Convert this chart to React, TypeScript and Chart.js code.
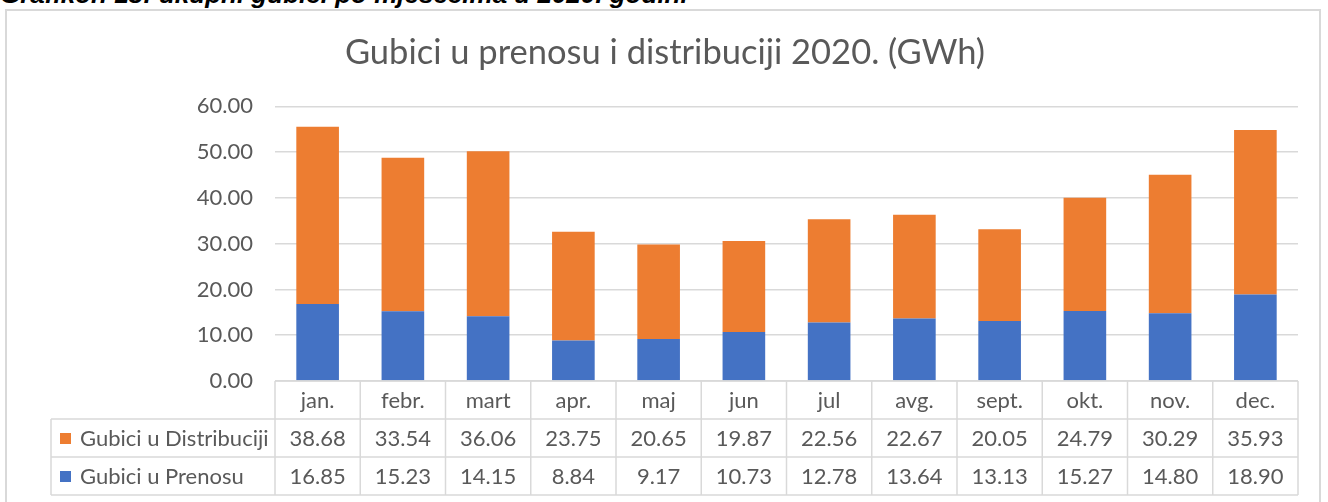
import React, { useEffect, useRef } from "react";
import { Chart, registerables } from "chart.js";

Chart.register(...registerables);

const months = ["jan.", "febr.", "mart", "apr.", "maj", "jun", "jul", "avg.", "sept.", "okt.", "nov.", "dec."];
const distribucija = [38.68, 33.54, 36.06, 23.75, 20.65, 19.87, 22.56, 22.67, 20.05, 24.79, 30.29, 35.93];
const prenos = [16.85, 15.23, 14.15, 8.84, 9.17, 10.73, 12.78, 13.64, 13.13, 15.27, 14.8, 18.9];
const seriesNames = ["Gubici u Distribuciji", "Gubici u Prenosu"];
const chartTitle = "Gubici u prenosu i distribuciji 2020. (GWh)";
const caption = "Grafikon 18: ukupni gubici po mjesecima u 2020. godini";

const BLUE = "#4472C4";
const ORANGE = "#ED7D31";
const TEXT = "#595959";
const GRID = "#d9d9d9";
const FONT = "Lato, 'Open Sans', sans-serif";

const tablePlugin = {
  id: "dataTable",
  afterDraw(chart: any) {
    const { ctx, chartArea } = chart;
    const xs = chart.scales.x;
    const left = chartArea.left;
    const right = chartArea.right;
    const top = chartArea.bottom;
    const rowH = 38;
    const legendLeft = 51;
    const n = months.length;
    const colW = (right - left) / n;
    ctx.save();
    ctx.strokeStyle = GRID;
    ctx.lineWidth = 1.5;
    ctx.beginPath();
    ctx.moveTo(left, top);
    ctx.lineTo(right, top);
    for (let r = 1; r <= 3; r++) {
      const y = top + r * rowH;
      ctx.moveTo(legendLeft, y);
      ctx.lineTo(right, y);
    }
    for (let k = 0; k <= n; k++) {
      const x = left + k * colW;
      ctx.moveTo(x, top);
      ctx.lineTo(x, top + 3 * rowH);
    }
    ctx.moveTo(legendLeft, top + rowH);
    ctx.lineTo(legendLeft, top + 3 * rowH);
    ctx.stroke();

    ctx.fillStyle = TEXT;
    ctx.font = `22px ${FONT}`;
    ctx.textBaseline = "middle";
    ctx.textAlign = "center";
    const rows = [months, distribucija.map((v) => v.toFixed(2)), prenos.map((v) => v.toFixed(2))];
    rows.forEach((row, r) => {
      const y = top + r * rowH + rowH / 2 + 1;
      row.forEach((txt, i) => {
        ctx.fillText(String(txt), xs.getPixelForValue(i), y);
      });
    });
    const colors = [ORANGE, BLUE];
    seriesNames.forEach((name, r) => {
      const y = top + (r + 1) * rowH + rowH / 2 + 1;
      ctx.fillStyle = colors[r];
      ctx.fillRect(60, y - 6, 11, 11);
      ctx.fillStyle = TEXT;
      ctx.textAlign = "left";
      ctx.fillText(name, 80, y);
    });
    ctx.restore();
  },
};

export default function App() {
  const ref = useRef<HTMLCanvasElement>(null);
  useEffect(() => {
    if (!ref.current) return;
    const chart = new Chart(ref.current, {
      type: "bar",
      data: {
        labels: months,
        datasets: [
          { label: seriesNames[1], data: prenos, backgroundColor: BLUE, barPercentage: 0.5, categoryPercentage: 1 },
          { label: seriesNames[0], data: distribucija, backgroundColor: ORANGE, barPercentage: 0.5, categoryPercentage: 1 },
        ],
      },
      options: {
        responsive: false,
        animation: false,
        layout: { padding: { left: 32, right: 30, top: 10, bottom: 121 } },
        plugins: {
          legend: { display: false },
          tooltip: { enabled: false },
          title: {
            display: true,
            text: chartTitle,
            color: TEXT,
            font: { family: FONT, size: 34.5, weight: "normal" },
            padding: { top: 22, bottom: 33 },
          },
        },
        scales: {
          x: { stacked: true, display: false },
          y: {
            stacked: true,
            min: 0,
            max: 60,
            afterFit: (s: any) => {
              s.width = 243;
            },
            ticks: {
              stepSize: 10,
              padding: 22,
              color: TEXT,
              font: { family: FONT, size: 22 },
              callback: (v: any) => Number(v).toFixed(2),
            },
            grid: { color: GRID, lineWidth: 1.5, drawTicks: false },
            border: { display: false },
          },
        },
      },
      plugins: [tablePlugin],
    });
    return () => chart.destroy();
  }, []);
  return (
    <div style={{ position: "absolute", left: 0, top: 0, width: 1328, height: 502, overflow: "hidden", background: "#fff" }}>
      <div
        style={{
          position: "absolute",
          left: 0,
          top: -19,
          lineHeight: "26px",
          fontFamily: "'Liberation Sans', Arial, sans-serif",
          fontWeight: "bold",
          fontStyle: "italic",
          fontSize: 26,
          color: "#000",
          whiteSpace: "nowrap",
        }}
      >
        {caption}
      </div>
      <div
        style={{
          position: "absolute",
          left: 5,
          top: 9,
          width: 1316,
          height: 520,
          border: "2px solid #d9d9d9",
          boxSizing: "border-box",
        }}
      />
      <canvas ref={ref} width={1328} height={502} style={{ position: "absolute", left: 0, top: 0, width: 1328, height: 502 }} />
    </div>
  );
}
